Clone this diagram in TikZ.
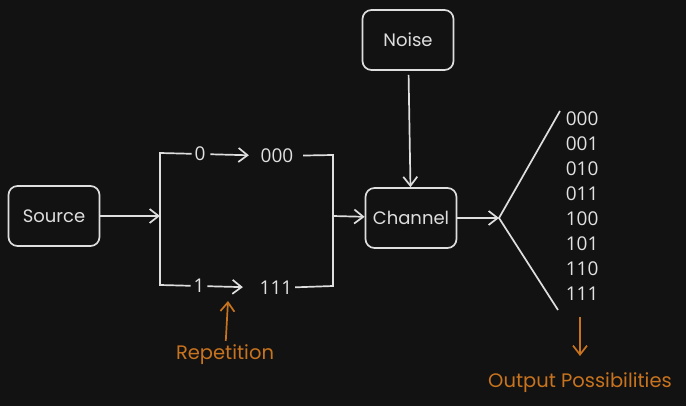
\documentclass[tikz,border=0pt]{standalone}
\usepackage{fontspec}
\usepackage{tkz-euclide}
\usetikzlibrary{arrows.meta}
\setmainfont{Poppins}
\newfontfamily\bitfont{Open Sans}
\definecolor{bg}{HTML}{121212}
\definecolor{ink}{HTML}{DEDEDE}
\definecolor{amber}{HTML}{C8731E}
\tikzset{>={Straight Barb[length=9pt,width=14pt]}}

\begin{document}
\begin{tikzpicture}[x=1pt, y=-1pt, line width=1.7pt, color=ink,
  box/.style={draw, rounded corners=9pt, minimum width=91pt, minimum height=60pt, font=\fontsize{18}{21}\selectfont},
  bits/.style={font=\bitfont\fontsize{19}{22}\selectfont, text=ink!92, inner sep=2pt},
  note/.style={font=\fontsize{19.5}{22}\selectfont, text=amber}]
\fill[bg] (0,0) rectangle (686,406);
\useasboundingbox (0,0) rectangle (686,406);
\tkzDefPoints{54/216/S, 408/40/N, 411/218/C, 160/153/LT, 160/216/LM, 160/285/LB,
  333/155/RT, 333/216/RM, 333/286/RB, 499/218/F, 560/111/FU, 558/310/FD,
  228/301/RA, 580/317/OA, 580/356/OB}
\node[box] (src) at (S) {Source};
\node[box] (noise) at (N) {Noise};
\node[box] (chan) at (C) {Channel};
\node[bits] (zero) at (200,154) {0};
\node[bits] (zeros) at (277,156) {000};
\node[bits] (one) at (199,286) {1};
\node[bits] (ones) at (276,288) {111};
\foreach \code [count=\i from 0] in {000,001,010,011,100,101,110,111}
  \node[bits, anchor=west] (b\i) at (563,119+25*\i) {\code};
\node[note] (rep) at (225,355) {Repetition};
\node[note] (outp) at (580,383) {Output Possibilities};
\draw[->] (src) -- (LM);
\draw (zero) -- (LT) -- (LB) -- (one);
\draw[shorten <=7pt] (zeros) -- (RT) -- (RB) -- (ones);
\draw[->, shorten <=2pt, shorten >=9pt] (zero) -- (zeros);
\draw[->, shorten >=14pt] (one) -- (ones);
\draw[->] (RM) -- (chan);
\draw[->, shorten <=4pt] (noise) -- (chan);
\draw[->] (chan) -- (F);
\draw (FU) -- (F) -- (FD);
\draw[->, amber] (rep) -- (RA);
\draw[->, amber] (OA) -- (OB);
\end{tikzpicture}
\end{document}
